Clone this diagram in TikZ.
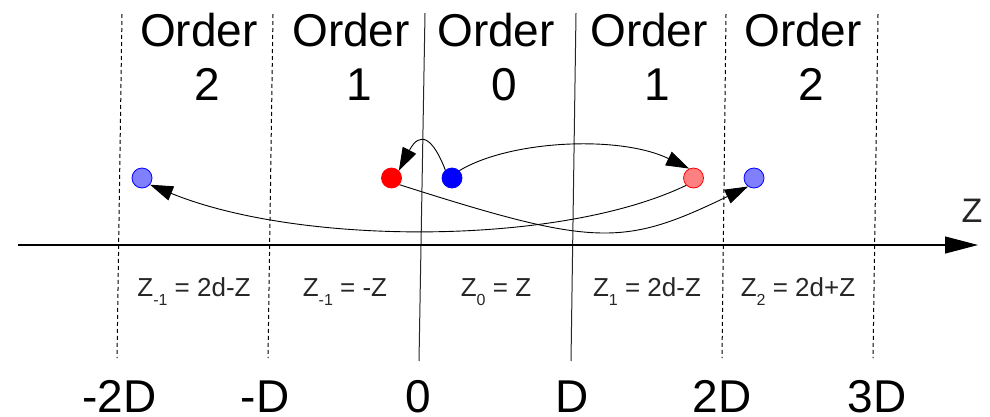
\documentclass[tikz,border=0pt]{standalone}
\usepackage{fontspec}
\setmainfont{Liberation Sans}
\usetikzlibrary{arrows.meta}
\definecolor{lblue}{HTML}{8080FF}
\definecolor{lred}{HTML}{FF8080}
\tikzset{
  vsolid/.style={draw=black!85, line width=1pt},
  vdash/.style={draw=black, line width=1pt, dash pattern=on 4pt off 3pt},
  particle/.style={circle, minimum size=20pt, inner sep=0pt, line width=0.8pt},
  orderlbl/.style={align=center, font=\fontsize{46}{54}\selectfont, inner sep=0pt, anchor=base},
  poslbl/.style={font=\fontsize{46}{54}\selectfont, inner sep=0pt, anchor=base, text depth=0pt},
  eqlbl/.style={font=\fontsize{26}{30}\selectfont, inner sep=0pt, anchor=base, text=black!85},
  conn/.style={line width=0.9pt, -{Triangle[length=23pt,width=15pt]}},
}
\newcommand{\mysub}[1]{\raisebox{-9pt}{\fontsize{16}{16}\selectfont #1}}
\begin{document}
\begin{tikzpicture}[x=1pt,y=-1pt]
\useasboundingbox (0,0) rectangle (990,416);
% vertical lines
\coordinate (t0) at (425,13); \coordinate (b0l) at (419,361);
\coordinate (tD) at (576,13); \coordinate (bD) at (571,361);
\draw[vsolid] (t0) -- (b0l);
\draw[vsolid] (tD) -- (bD);
\coordinate (tm2) at (122,14); \coordinate (bm2) at (117,358);
\coordinate (tm1) at (273,14); \coordinate (bm1) at (268,358);
\coordinate (t2) at (726,14); \coordinate (b2) at (722,358);
\coordinate (t3) at (878,14); \coordinate (b3) at (873,358);
\draw[vdash] (tm2) -- (bm2);
\draw[vdash] (tm1) -- (bm1);
\draw[vdash] (t2) -- (b2);
\draw[vdash] (t3) -- (b3);
% axis
\coordinate (axs) at (18,245);
\coordinate (axe) at (978,245);
\draw[line width=1.1pt, -{Triangle[length=33pt,width=17pt]}] (axs) -- (axe);
\node[font=\fontsize{34}{40}\selectfont, inner sep=0pt, anchor=base, text=black!85] (zl) at (972,222) {Z};
% order labels
\node[orderlbl] (o2l) at (199,100) {Order\\\hspace*{16pt}2};
\node[orderlbl] (o1l) at (351,100) {Order\\\hspace*{16pt}1};
\node[orderlbl] (o0) at (496,100) {Order\\\hspace*{16pt}0};
\node[orderlbl] (o1r) at (649,100) {Order\\\hspace*{16pt}1};
\node[orderlbl] (o2r) at (803,100) {Order\\\hspace*{16pt}2};
% position labels
\node[poslbl] (pm2) at (119.5,412) {-2D};
\node[poslbl] (pm1) at (265,412) {-D};
\node[poslbl] (p0) at (418,412) {0};
\node[poslbl] (p1) at (572,412) {D};
\node[poslbl] (p2) at (722,412) {2D};
\node[poslbl] (p3) at (877,412) {3D};
% equation labels
\node[eqlbl] (e1) at (194,296) {Z\mysub{-1} = 2d-Z};
\node[eqlbl] (e2) at (345,296) {Z\mysub{-1} = -Z};
\node[eqlbl] (e3) at (496,296) {Z\mysub{0} = Z};
\node[eqlbl] (e4) at (647,296) {Z\mysub{1} = 2d-Z};
\node[eqlbl] (e5) at (798,296) {Z\mysub{2} = 2d+Z};
% particles
\node[particle, draw=blue, fill=lblue] (lb1) at (142,178) {};
\node[particle, draw=red, fill=red] (r0) at (391.5,178) {};
\node[particle, draw=blue, fill=blue] (b0) at (452,178) {};
\node[particle, draw=red, fill=lred] (r1) at (693.5,178) {};
\node[particle, draw=blue, fill=lblue] (lb2) at (754,178) {};
% connectors
\draw[conn] (b0.130) .. controls (433,138) and (420,130) .. (r0.45);
\draw[conn] (b0.45) .. controls (510,140) and (620,135) .. (r1.115);
\draw[conn] (r1.225) .. controls (560,246) and (300,246) .. (lb1.-40);
\draw[conn] (r0.-40) .. controls (595,247) and (623,247) .. (lb2.235);
\end{tikzpicture}
\end{document}
